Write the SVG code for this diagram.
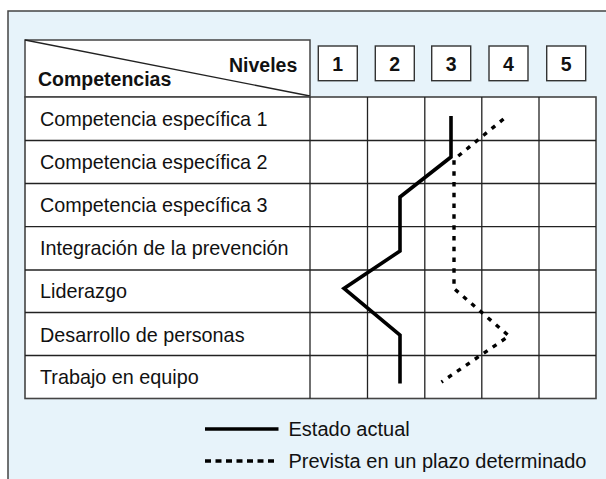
<svg xmlns="http://www.w3.org/2000/svg" width="606" height="479" viewBox="0 0 606 479">
<style>
.t{font-family:"Liberation Sans",Arial,sans-serif;font-size:19.8px;fill:#111}
.b{font-family:"Liberation Sans",Arial,sans-serif;font-size:19.5px;font-weight:bold;fill:#111}
.g{stroke:#222;stroke-width:1.3;fill:none}
.box{fill:#fff;stroke:#333;stroke-width:1.4}
.solid{fill:none;stroke:#000;stroke-width:3.6;stroke-linejoin:miter}
.dot{fill:none;stroke:#000;stroke-width:3.4;stroke-dasharray:4.5 6.3}
</style>
<rect x="8" y="11" width="610" height="480" fill="#E7F3FA" stroke="#444" stroke-width="1.5"/>
<g id="table">
<rect x="25" y="40" width="285" height="57" fill="#fff" stroke="#444" stroke-width="1.5"/>
<line x1="25" y1="40" x2="310" y2="96" stroke="#222" stroke-width="1.3"/>
<text class="b" x="229" y="72">Niveles</text>
<text class="b" x="38" y="86">Competencias</text>
<rect x="25" y="97" width="571" height="301.5" fill="#fff" stroke="#444" stroke-width="1.6"/>
<g class="g">
<line x1="25" y1="140.5" x2="596" y2="140.5"/>
<line x1="25" y1="183.5" x2="596" y2="183.5"/>
<line x1="25" y1="226.7" x2="596" y2="226.7"/>
<line x1="25" y1="270" x2="596" y2="270"/>
<line x1="25" y1="312.5" x2="596" y2="312.5"/>
<line x1="25" y1="355.5" x2="596" y2="355.5"/>
<line x1="310" y1="97" x2="310" y2="398.5"/>
<line x1="367.5" y1="97" x2="367.5" y2="398.5"/>
<line x1="424.8" y1="97" x2="424.8" y2="398.5"/>
<line x1="481.8" y1="97" x2="481.8" y2="398.5"/>
<line x1="539" y1="97" x2="539" y2="398.5"/>
</g>
</g>
<g id="levels">
<g id="level1"><rect class="box" x="318.3" y="46" width="39" height="34.7"/><text class="b" x="337.8" y="70.8" text-anchor="middle">1</text></g>
<g id="level2"><rect class="box" x="375.3" y="46" width="39" height="34.7"/><text class="b" x="394.8" y="70.8" text-anchor="middle">2</text></g>
<g id="level3"><rect class="box" x="431.7" y="46" width="39" height="34.7"/><text class="b" x="451.2" y="70.8" text-anchor="middle">3</text></g>
<g id="level4"><rect class="box" x="489" y="46" width="39" height="34.7"/><text class="b" x="508.5" y="70.8" text-anchor="middle">4</text></g>
<g id="level5"><rect class="box" x="546.7" y="46" width="39" height="34.7"/><text class="b" x="566.2" y="70.8" text-anchor="middle">5</text></g>
</g>
<g id="rows">
<text class="t" x="40" y="126.3">Competencia específica 1</text>
<text class="t" x="40" y="168.5">Competencia específica 2</text>
<text class="t" x="40" y="211.7">Competencia específica 3</text>
<text class="t" x="40" y="254.5">Integración de la prevención</text>
<text class="t" x="40" y="298.3">Liderazgo</text>
<text class="t" x="40" y="341.5">Desarrollo de personas</text>
<text class="t" x="40" y="383.5">Trabajo en equipo</text>
</g>
<g id="connectors">
<polyline class="solid" points="451,116 451,157 400,197 400,251 344,288.5 400,335 400,383.5"/>
<polyline class="dot" points="503.5,119 454,159.5 454,288.5 509,336 441.5,382"/>
</g>
<g id="legend">
<line x1="205" y1="429" x2="278.5" y2="429" stroke="#000" stroke-width="3.6"/>
<text class="t" x="288.5" y="436" style="font-size:20px">Estado actual</text>
<line x1="205" y1="461" x2="278.5" y2="461" stroke="#000" stroke-width="3.6" stroke-dasharray="6 4.5"/>
<text class="t" x="288.5" y="468" style="font-size:20px">Prevista en un plazo determinado</text>
</g>
</svg>
